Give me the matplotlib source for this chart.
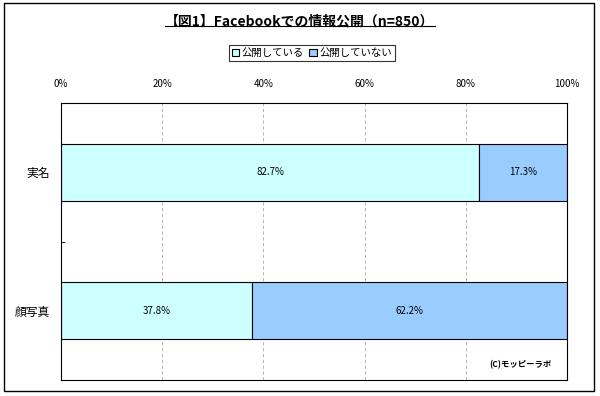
import matplotlib.pyplot as plt
from matplotlib.patches import Rectangle
from matplotlib.lines import Line2D

plt.rcParams['font.family'] = ['Noto Sans CJK JP', 'DejaVu Sans']

categories = ["実名", "顔写真"]
public = [82.7, 37.8]
private = [17.3, 62.2]
series_names = ["公開している", "公開していない"]
colors = ["#CCFFFF", "#99CCFF"]

fig = plt.figure(figsize=(6, 3.96), dpi=100)
ax = fig.add_axes([61 / 600, 16 / 396, 506 / 600, 277 / 396])

y = list(range(len(categories)))
ax.barh(y, public, height=0.41, color=colors[0], edgecolor="black", linewidth=0.8, label=series_names[0])
ax.barh(y, private, left=public, height=0.41, color=colors[1], edgecolor="black", linewidth=0.8, label=series_names[1])

for i in y:
    ax.text(public[i] / 2, i, f"{public[i]:.1f}%", ha="center", va="center", fontsize=7)
    ax.text(public[i] + private[i] / 2, i, f"{private[i]:.1f}%", ha="center", va="center", fontsize=7)

ax.set_xlim(0, 100)
ax.set_ylim(1.5, -0.5)
ax.set_xticks([0, 20, 40, 60, 80, 100])
ax.set_xticklabels([f"{v}%" for v in [0, 20, 40, 60, 80, 100]], fontsize=7)
ax.xaxis.tick_top()
ax.tick_params(axis="x", length=0, pad=10)
ax.set_yticks(y)
ax.set_yticklabels(categories, fontsize=8.5)
ax.tick_params(axis="y", length=0, pad=8)
ax.set_yticks([0.5], minor=True)
ax.tick_params(axis="y", which="minor", length=3, direction="in")
ax.grid(axis="x", linestyle=(0, (4, 3)), color="#aaaaaa", linewidth=0.6)
ax.set_axisbelow(True)
for s in ax.spines.values():
    s.set_linewidth(0.8)

ax.text(0.97, 0.04, "(C)モッピーラボ", transform=ax.transAxes, ha="right", va="bottom",
        fontsize=6, fontweight="bold")

leg = fig.legend(loc="center", bbox_to_anchor=(312 / 600, 1 - 53 / 396), ncol=2, fontsize=7.5,
                 frameon=True, fancybox=False, edgecolor="black", handlelength=0.7,
                 handleheight=0.7, handletextpad=0.3, columnspacing=0.5, borderpad=0.25)
leg.get_frame().set_linewidth(0.8)

title = fig.text(0.5, 1 - 21 / 396, "【図1】Facebookでの情報公開（n=850）", ha="center", va="center",
                 fontsize=10, fontweight="bold")

fig.patches.append(Rectangle((4 / 600, 5 / 396), 590 / 600, 388 / 396, transform=fig.transFigure,
                             fill=False, edgecolor="black", linewidth=1))

fig.canvas.draw()
bb = title.get_window_extent().transformed(fig.transFigure.inverted())
fig.lines.append(Line2D([bb.x0, bb.x1], [bb.y0 + 0.005, bb.y0 + 0.005], transform=fig.transFigure,
                        color="black", linewidth=0.8))

fig.savefig("out.png", dpi=100)
